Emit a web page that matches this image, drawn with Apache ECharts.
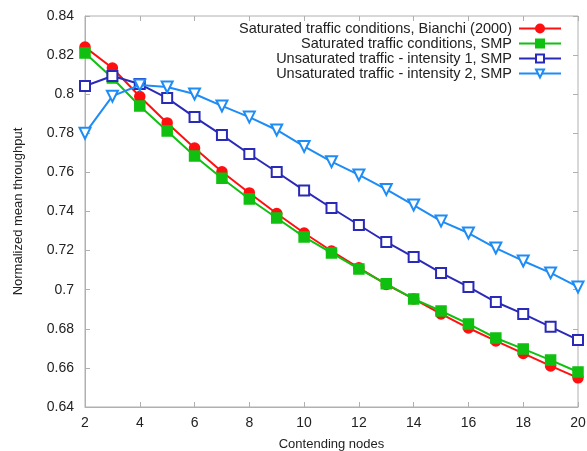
<!DOCTYPE html>
<html><head><meta charset="utf-8">
<script src="https://cdn.jsdelivr.net/npm/echarts@6/dist/echarts.min.js"></script>
<style>html,body{margin:0;padding:0;background:#fff}#c{width:587px;height:451px}</style>
</head><body><div id="c"></div>
<script>
const nodes = [2,3,4,5,6,7,8,9,10,11,12,13,14,15,16,17,18,19,20];
const bianchi = [0.8241,0.8134,0.7988,0.7853,0.7725,0.7603,0.7495,0.7390,0.7290,0.7198,0.7112,0.7027,0.6953,0.6876,0.6804,0.6738,0.6674,0.6610,0.6549];
const smpSat = [0.8211,0.8083,0.7940,0.7812,0.7684,0.7570,0.7464,0.7367,0.7270,0.7188,0.7106,0.7030,0.6953,0.6891,0.6825,0.6753,0.6697,0.6640,0.6579];
const smpInt1 = [0.8042,0.8093,0.8052,0.7980,0.7883,0.7791,0.7694,0.7602,0.7508,0.7418,0.7331,0.7244,0.7167,0.7086,0.7014,0.6937,0.6876,0.6810,0.6743];
const smpInt2 = [0.7800,0.7990,0.8047,0.8037,0.8001,0.7940,0.7883,0.7817,0.7733,0.7655,0.7587,0.7513,0.7433,0.7351,0.7290,0.7213,0.7147,0.7086,0.7014];
const names = ['Saturated traffic conditions, Bianchi (2000)','Saturated traffic conditions, SMP','Unsaturated traffic - intensity 1, SMP','Unsaturated traffic - intensity 2, SMP'];
const colors = ['#ff1010','#10c010','#2a2ab8','#1e8cf5'];
const yTicks = [0.64,0.66,0.68,0.70,0.72,0.74,0.76,0.78,0.80,0.82,0.84];

const font = 'Liberation Sans, Arial, sans-serif';
const axisColor = '#b0b0b0';
const chart = echarts.init(document.getElementById('c'));
const series = [
  {data: bianchi, symbol: 'circle', symbolSize: 10},
  {data: smpSat, symbol: 'rect', symbolSize: 10},
  {data: smpInt1, symbol: 'emptyRect', symbolSize: 10},
  {data: smpInt2, symbol: 'emptyTriangle', symbolSize: 11, symbolRotate: 180}
].map((s, i) => Object.assign({
  name: names[i], type: 'line',
  lineStyle: {color: colors[i], width: 2},
  itemStyle: {color: colors[i], borderColor: colors[i], borderWidth: 1.5},
  showSymbol: true, animation: false, z: 2 + i
}, s, {data: s.data.map((v, j) => [nodes[j], v])}));

const legendTops = [21, 36, 51, 66];
const legends = names.map((n, i) => ({
  data: [n], right: 25, top: legendTops[i], orient: 'vertical', align: 'right',
  itemWidth: 42, itemHeight: 10, itemGap: 0, padding: 0,
  textStyle: {fontFamily: font, fontSize: 14.5, color: '#222', padding: [0, 2, 0, 0]},
  selectedMode: false
}));

chart.setOption({
  animation: false,
  grid: {left: 85, right: 9, top: 16, bottom: 44, show: true, borderColor: axisColor, borderWidth: 1,
    containLabel: false, outerBoundsMode: 'none'},
  legend: legends,
  xAxis: [{
    type: 'value', min: 2, max: 20, interval: 2,
    name: 'Contending nodes', nameLocation: 'middle', nameGap: 31,
    nameTextStyle: {fontFamily: font, fontSize: 13, color: '#222'},
    axisLine: {lineStyle: {color: axisColor}},
    axisTick: {inside: true, length: 5, lineStyle: {color: axisColor}},
    axisLabel: {fontFamily: font, fontSize: 14, color: '#222', margin: 9},
    splitLine: {show: false}
  }, {
    type: 'value', min: 2, max: 20, interval: 2, position: 'top',
    axisLine: {show: false}, axisTick: {inside: true, length: 5, lineStyle: {color: axisColor}},
    axisLabel: {show: false}, splitLine: {show: false}
  }],
  yAxis: [{
    type: 'value', min: 0.64, max: 0.84, interval: 0.02,
    name: 'Normalized mean throughput', nameLocation: 'middle', nameGap: 60,
    nameTextStyle: {fontFamily: font, fontSize: 13, color: '#222'},
    axisLine: {show: true, lineStyle: {color: axisColor}},
    axisTick: {inside: true, length: 5, lineStyle: {color: axisColor}},
    axisLabel: {fontFamily: font, fontSize: 14, color: '#222', margin: 11,
      formatter: v => String(parseFloat(v.toFixed(2)))},
    splitLine: {show: false}
  }, {
    type: 'value', min: 0.64, max: 0.84, interval: 0.02, position: 'right',
    axisLine: {show: false}, axisTick: {show: true, inside: true, length: 5, lineStyle: {color: axisColor}},
    axisLabel: {show: false}, splitLine: {show: false}
  }],
  series: series
});
</script></body></html>
